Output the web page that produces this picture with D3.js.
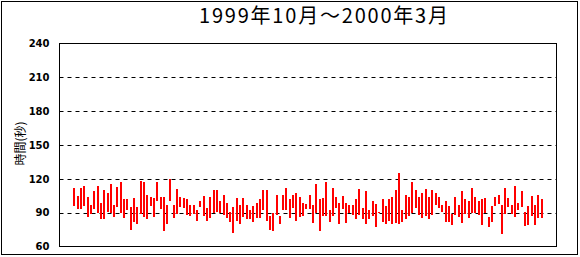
<!DOCTYPE html>
<html>
<head>
<meta charset="utf-8">
<script src="https://cdn.jsdelivr.net/npm/d3@7"></script>
<style>
  html, body { margin: 0; padding: 0; background: #fff; }
  svg { display: block; }
</style>
</head>
<body>
<svg id="chart" width="580" height="257"></svg>
<script>
// ---- data ----
const title = "1999年10月～2000年3月";
const yLabel = "時間(秒)";
const yTicks = [60, 90, 120, 150, 180, 210, 240];
const leadingEmpty = 4;   // empty day slots before the first bar
const trailingEmpty = 4;  // empty day slots after the last bar
const highs = [112,105,112,114,104,97,109,114,99,110,107,115,97,113,117,102,102,95,103,95,
  118,117,106,104,103,117,104,104,97,120,97,111,104,103,102,97,97,92,100,105,
  94,104,110,110,100,106,99,91,95,103,97,103,97,92,96,99,102,110,110,87,
  90,106,87,106,112,102,106,107,104,99,98,106,97,115,102,103,117,92,112,104,
  99,105,99,97,97,102,111,94,109,92,100,98,91,102,96,102,104,110,125,92,
  106,104,117,110,104,107,111,104,110,107,104,97,100,96,89,104,97,109,102,100,
  112,104,100,102,103,86,96,104,106,97,112,103,97,114,99,109,91,96,105,97,
  106,102];
const lows = [96,93,93,96,86,89,93,90,84,84,91,90,86,95,90,85,92,75,82,80,
  89,86,84,96,86,100,93,74,80,100,85,89,95,94,88,87,89,83,95,87,
  83,85,90,91,90,88,85,82,72,83,80,86,84,84,82,85,85,92,83,75,
  74,88,80,92,92,85,94,83,86,87,93,93,81,90,74,87,87,82,87,94,
  80,93,81,90,88,84,88,84,80,84,87,77,90,82,80,83,80,81,80,82,
  84,87,90,94,88,85,87,84,88,97,94,91,82,82,79,88,86,81,89,85,
  90,90,88,79,90,77,82,96,98,71,89,95,89,86,92,95,78,79,87,79,
  85,85];

// ---- layout ----
const W = 580, H = 257;
const plot = { left: 59.5, right: 556.5, top: 43.5, bottom: 246.5 };
const svg = d3.select("#chart");

// outer frame
svg.append("rect")
  .attr("x", 1.5).attr("y", 1.5)
  .attr("width", 576).attr("height", 253)
  .attr("fill", "#fff").attr("stroke", "#000").attr("stroke-width", 1);

// build slots: leading empty, data, trailing empty
const slots = [];
for (let i = 0; i < leadingEmpty; i++) slots.push({ hi: null, lo: null });
highs.forEach((h, i) => slots.push({ hi: h, lo: lows[i] }));
for (let i = 0; i < trailingEmpty; i++) slots.push({ hi: null, lo: null });
slots.forEach((d, i) => d.idx = i);

const x = d3.scaleBand()
  .domain(slots.map(d => d.idx))
  .range([plot.left, plot.right])
  .padding(0);

const y = d3.scaleLinear()
  .domain([yTicks[0], yTicks[yTicks.length - 1]])
  .range([plot.bottom, plot.top]);

// gridlines (dashed)
svg.append("g")
  .selectAll("line")
  .data(yTicks.slice(1, -1))
  .join("line")
  .attr("x1", plot.left).attr("x2", plot.right)
  .attr("y1", d => Math.round(y(d)) + 0.5)
  .attr("y2", d => Math.round(y(d)) + 0.5)
  .attr("stroke", "#000").attr("stroke-width", 1)
  .attr("stroke-dasharray", "4,4");

// bars (high-low)
svg.append("g")
  .selectAll("rect")
  .data(slots.filter(d => d.hi !== null))
  .join("rect")
  .attr("x", d => Math.round(x(d.idx) + x.bandwidth() / 2 - 1))
  .attr("width", 2)
  .attr("y", d => Math.round(y(d.hi)))
  .attr("height", d => Math.max(1, Math.round(y(d.lo)) - Math.round(y(d.hi))))
  .attr("fill", "#ff0000");

// plot frame
svg.append("rect")
  .attr("x", plot.left).attr("y", plot.top)
  .attr("width", plot.right - plot.left)
  .attr("height", plot.bottom - plot.top)
  .attr("fill", "none").attr("stroke", "#000").attr("stroke-width", 1);

// y axis labels
const yAxis = d3.axisLeft(y).tickValues(yTicks).tickSize(0).tickPadding(10);
const gy = svg.append("g")
  .attr("transform", `translate(${plot.left},0)`)
  .call(yAxis);
gy.select(".domain").remove();
gy.selectAll("text")
  .attr("font-family", "'DejaVu Sans', sans-serif")
  .attr("font-weight", "bold")
  .attr("font-size", 10)
  .attr("fill", "#000");

// title
svg.append("text")
  .attr("x", 323.5).attr("y", 23)
  .attr("text-anchor", "middle")
  .attr("font-family", "'Noto Sans CJK JP', sans-serif")
  .attr("font-size", 20)
  .attr("textLength", 249)
  .attr("lengthAdjust", "spacing")
  .attr("fill", "#000")
  .text(title);

// y label
svg.append("text")
  .attr("transform", "translate(19,143.5) rotate(-90)")
  .attr("text-anchor", "middle")
  .attr("dominant-baseline", "central")
  .attr("font-family", "'Noto Sans CJK JP', sans-serif")
  .attr("font-size", 12)
  .attr("fill", "#000")
  .text(yLabel);
</script>
</body>
</html>
